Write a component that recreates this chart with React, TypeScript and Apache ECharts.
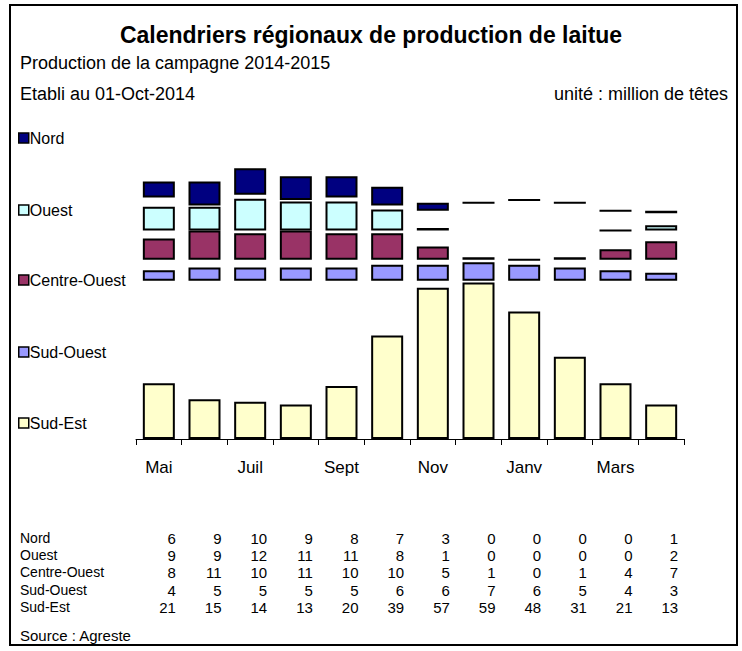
import React, { useEffect, useRef } from 'react';
import * as echarts from 'echarts';

const months = ['Mai', 'Juin', 'Juil', 'Août', 'Sept', 'Oct', 'Nov', 'Déc', 'Janv', 'Févr', 'Mars', 'Avr'];
const axisMonthLabels = ['Mai', '', 'Juil', '', 'Sept', '', 'Nov', '', 'Janv', '', 'Mars', ''];
const nord = [6, 9, 10, 9, 8, 7, 3, 0, 0, 0, 0, 1];
const ouest = [9, 9, 12, 11, 11, 8, 1, 0, 0, 0, 0, 2];
const ouestWithoutBar = ['Déc', 'Janv', 'Févr'];
const centreOuest = [8, 11, 10, 11, 10, 10, 5, 1, 0, 1, 4, 7];
const sudOuest = [4, 5, 5, 5, 5, 6, 6, 7, 6, 5, 4, 3];
const sudEst = [21, 15, 14, 13, 20, 39, 57, 59, 48, 31, 21, 13];

const FONT = '"Liberation Sans", Arial, sans-serif';

const colors = {
  nord: '#000080',
  ouest: '#CCFFFF',
  centreOuest: '#993366',
  sudOuest: '#9999FF',
  sudEst: '#FFFFCC',
};

export default function App() {
  const ref = useRef<HTMLDivElement>(null);

  useEffect(() => {
    if (!ref.current) return;
    const chart = echarts.init(ref.current, undefined, { renderer: 'svg' });

    const maxSE = Math.max(...sudEst);
    const maxSO = Math.max(...sudOuest);
    const maxCO = Math.max(...centreOuest);
    const sp1 = sudEst.map((v) => maxSE - v + 0.6);
    const sp2 = sudOuest.map((v) => maxSO - v + 0.9);
    const sp3 = centreOuest.map((v) => maxCO - v);
    // the reference's gap above Ouest follows Centre-Ouest
    const sp4 = centreOuest.map((v) => maxCO - v + 0.5);
    const ouestBars = ouest.map((v, i) => (ouestWithoutBar.includes(months[i]) ? null : v));

    const baseY = 439;
    const border = { borderColor: '#000', borderWidth: 2 };
    const visible = (name: string, data: (number | null)[], color: string) => ({
      name,
      type: 'bar',
      stack: 'all',
      data,
      barWidth: 32,
      itemStyle: { color, ...border },
      emphasis: { disabled: true },
    });
    const spacer = (name: string, data: number[]) => ({
      name,
      type: 'bar',
      stack: 'all',
      data,
      barWidth: 32,
      silent: true,
      itemStyle: { color: 'rgba(0,0,0,0)', borderWidth: 0 },
      emphasis: { disabled: true },
    });

    const rows = [
      { name: 'Nord', values: nord },
      { name: 'Ouest', values: ouest },
      { name: 'Centre-Ouest', values: centreOuest },
      { name: 'Sud-Ouest', values: sudOuest },
      { name: 'Sud-Est', values: sudEst },
    ];
    const rowY = [538, 555, 572, 590, 607];

    const tableAxes = rows.map((r, k) => ({
      type: 'category',
      gridIndex: 0,
      position: 'bottom',
      offset: rowY[k] - baseY,
      data: r.values.map((v) => String(v)),
      axisLine: { show: false },
      axisTick: { show: false },
      axisLabel: {
        interval: 0,
        margin: 0,
        verticalAlign: 'middle',
        formatter: (v: string) => `{n|${v}}`,
        rich: { n: { width: 34, align: 'right', fontSize: 15, fontFamily: FONT, color: '#000' } },
      },
    }));

    const legendCenters = [138, 210, 280, 352, 423];
    const legendNames = ['Nord', 'Ouest', 'Centre-Ouest', 'Sud-Ouest', 'Sud-Est'];

    const plain = (size: number) => ({ fontSize: size, fontWeight: 'normal', color: '#000', fontFamily: FONT });

    chart.setOption({
      animation: false,
      textStyle: { fontFamily: FONT },
      title: [
        {
          text: 'Calendriers régionaux de production de laitue',
          left: 'center',
          top: 23,
          padding: 0,
          textStyle: { fontSize: 23, fontWeight: 'bold', color: '#000', fontFamily: FONT },
        },
        { text: 'Production de la campagne 2014-2015', left: 20, top: 54, padding: 0, textStyle: plain(18) },
        { text: 'Etabli au 01-Oct-2014', left: 20, top: 85, padding: 0, textStyle: plain(18) },
        { text: 'unité : million de têtes', right: 14, top: 85, padding: 0, textStyle: plain(18) },
        { text: 'Source : Agreste', left: 20, top: 628, padding: 0, textStyle: plain(15) },
      ],
      legend: legendNames.map((n, k) => ({
        data: [n],
        left: 18,
        top: legendCenters[k] - 8,
        padding: 0,
        orient: 'vertical',
        itemWidth: 10,
        itemHeight: 10,
        selectedMode: false,
        icon: 'rect',
        itemStyle: { borderColor: '#000', borderWidth: 1.5 },
        textStyle: { fontSize: 16, color: '#000', fontFamily: FONT, padding: [0, 0, 0, -4] },
      })),
      grid: { left: 136, width: 548, top: 147, height: 292 },
      xAxis: [
        {
          type: 'category',
          data: months,
          position: 'bottom',
          axisLine: { show: true, lineStyle: { color: '#000', width: 1 } },
          axisTick: { show: true, interval: 0, length: 6, lineStyle: { color: '#000' } },
          axisLabel: {
            interval: 0,
            margin: 20,
            fontSize: 17,
            color: '#000',
            fontFamily: FONT,
            formatter: (_v: string, i: number) => axisMonthLabels[i],
          },
        },
        ...tableAxes,
      ],
      yAxis: { type: 'value', min: 0, max: 110, show: false, splitLine: { show: false } },
      graphic: [
        {
          type: 'rect',
          shape: { x: 10, y: 5, width: 727, height: 640 },
          style: { fill: 'none', stroke: '#000', lineWidth: 2 },
          silent: true,
        },
        ...rows.map((r, k) => ({
          type: 'text',
          x: 20,
          y: rowY[k],
          style: { text: r.name, fontSize: 14, fontFamily: FONT, fill: '#000', verticalAlign: 'middle' },
          silent: true,
        })),
      ],
      series: [
        visible('Sud-Est', sudEst, colors.sudEst),
        spacer('sp1', sp1),
        visible('Sud-Ouest', sudOuest, colors.sudOuest),
        spacer('sp2', sp2),
        visible('Centre-Ouest', centreOuest, colors.centreOuest),
        spacer('sp3', sp3),
        visible('Ouest', ouestBars, colors.ouest),
        spacer('sp4', sp4),
        visible('Nord', nord, colors.nord),
      ],
    });

    return () => chart.dispose();
  }, []);

  return (
    <div
      ref={ref}
      style={{ position: 'fixed', left: 0, top: 0, width: 742, height: 651, background: '#fff' }}
    />
  );
}
